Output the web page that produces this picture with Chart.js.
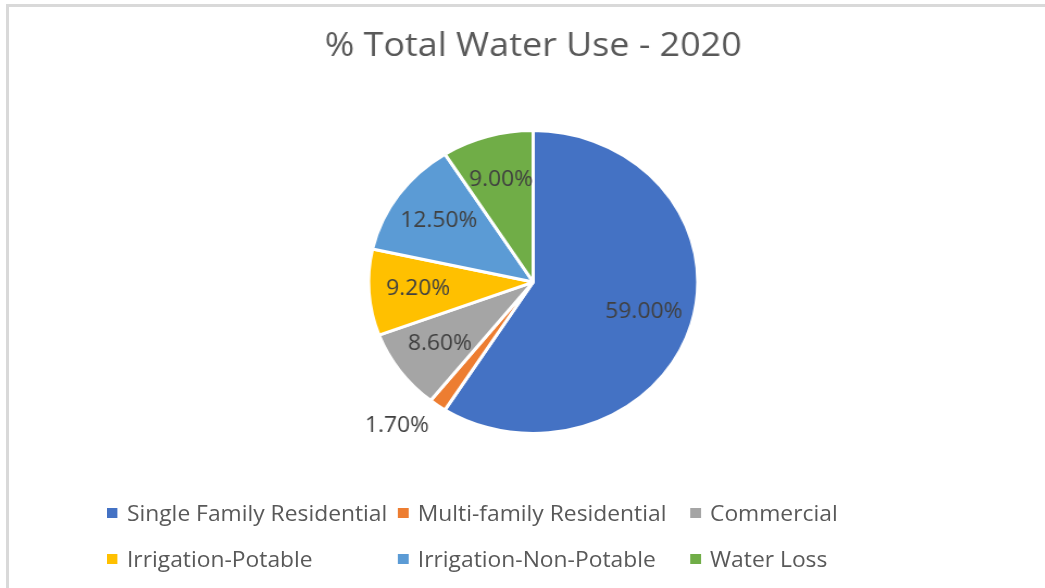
<!DOCTYPE html>
<html>
<head>
<meta charset="utf-8">
<script src="https://cdn.jsdelivr.net/npm/chart.js@4.4.0/dist/chart.umd.min.js"></script>
<style>
  html, body { margin: 0; padding: 0; background: #fff; overflow: hidden; }
  #page { position: relative; width: 1045px; height: 588px; overflow: hidden; background: #fff; }
  #frame { position: absolute; left: 6px; top: 4px; width: 3000px; height: 3000px;
           border-top: 3px solid #d9d9d9; border-left: 3px solid #d9d9d9; box-sizing: border-box; }
  #stage { position: absolute; left: 0; top: 0; width: 961px; height: 588px;
           transform: scaleX(1.087); transform-origin: 0 0; }
  #chartBox { position: absolute; left: 0; top: 0; width: 961px; height: 588px; }
  #legend { position: absolute; left: 98.4px; top: 502px; display: grid;
            grid-template-columns: 267.6px 268.8px auto; grid-auto-rows: 22px; row-gap: 24px;
            font-family: "Open Sans", sans-serif; font-size: 21px; color: #595959; }
  .item { display: flex; align-items: center; white-space: nowrap; line-height: 22px; }
  .box { width: 10px; height: 10px; margin-right: 8.4px; flex: none; }
</style>
</head>
<body>
<div id="page">
  <div id="frame"></div>
  <div id="stage">
    <div id="chartBox"><canvas id="c"></canvas></div>
    <div id="legend"></div>
  </div>
</div>
<script>
const chartTitle = '% Total Water Use - 2020';
const categories = ['Single Family Residential', 'Multi-family Residential', 'Commercial',
                    'Irrigation-Potable', 'Irrigation-Non-Potable', 'Water Loss'];
const shares = [59.0, 1.7, 8.6, 9.2, 12.5, 9.0];
const sliceColors = ['#4472C4', '#ED7D31', '#A5A5A5', '#FFC000', '#5B9BD5', '#70AD47'];

// HTML legend built from the same arrays
const legendEl = document.getElementById('legend');
categories.forEach((name, i) => {
  const it = document.createElement('div');
  it.className = 'item';
  const b = document.createElement('span');
  b.className = 'box';
  b.style.background = sliceColors[i];
  const t = document.createElement('span');
  t.textContent = name;
  it.appendChild(b); it.appendChild(t);
  legendEl.appendChild(it);
});

const sliceLabels = {
  id: 'sliceLabels',
  afterDatasetsDraw(chart) {
    const ctx = chart.ctx;
    const meta = chart.getDatasetMeta(0);
    const vals = chart.data.datasets[0].data;
    ctx.save();
    ctx.font = '21px "Open Sans"';
    ctx.fillStyle = '#404040';
    meta.data.forEach((arc, i) => {
      const p = arc.getProps(['x', 'y', 'startAngle', 'endAngle', 'outerRadius'], true);
      const mid = (p.startAngle + p.endAngle) / 2;
      const frac = (p.endAngle - p.startAngle) / (2 * Math.PI);
      const txt = vals[i].toFixed(2) + '%';
      if (frac < 0.03) {
        const r = p.outerRadius * 1.09;
        const c = Math.cos(mid), s = Math.sin(mid);
        ctx.textAlign = c < 0 ? 'right' : 'left';
        ctx.textBaseline = 'middle';
        ctx.fillText(txt, p.x + c * r, p.y + s * r + (s > 0 ? 10 : -10));
      } else {
        const r = p.outerRadius * 0.7;
        ctx.textAlign = 'center';
        ctx.textBaseline = 'middle';
        ctx.fillText(txt, p.x + Math.cos(mid) * r, p.y + Math.sin(mid) * r);
      }
    });
    ctx.restore();
  }
};

function makeChart() {
  new Chart(document.getElementById('c'), {
    type: 'pie',
    data: {
      labels: categories,
      datasets: [{
        data: shares,
        backgroundColor: sliceColors,
        borderColor: '#ffffff',
        borderWidth: 3,
        hoverBorderWidth: 3,
        offset: 0,
        hoverOffset: 0
      }]
    },
    options: {
      responsive: true,
      maintainAspectRatio: false,
      animation: false,
      layout: { padding: { left: 20, right: 0, top: 0, bottom: 153 } },
      plugins: {
        legend: { display: false },
        tooltip: { enabled: false },
        title: {
          display: true,
          text: chartTitle,
          color: '#595959',
          font: { family: '"Open Sans"', size: 33, weight: 'normal' },
          padding: { top: 26.5, bottom: 63 }
        }
      }
    },
    plugins: [sliceLabels]
  });
}

Promise.all([
  document.fonts.load('21px "Open Sans"'),
  document.fonts.load('33px "Open Sans"')
]).then(makeChart, makeChart);
</script>
</body>
</html>
